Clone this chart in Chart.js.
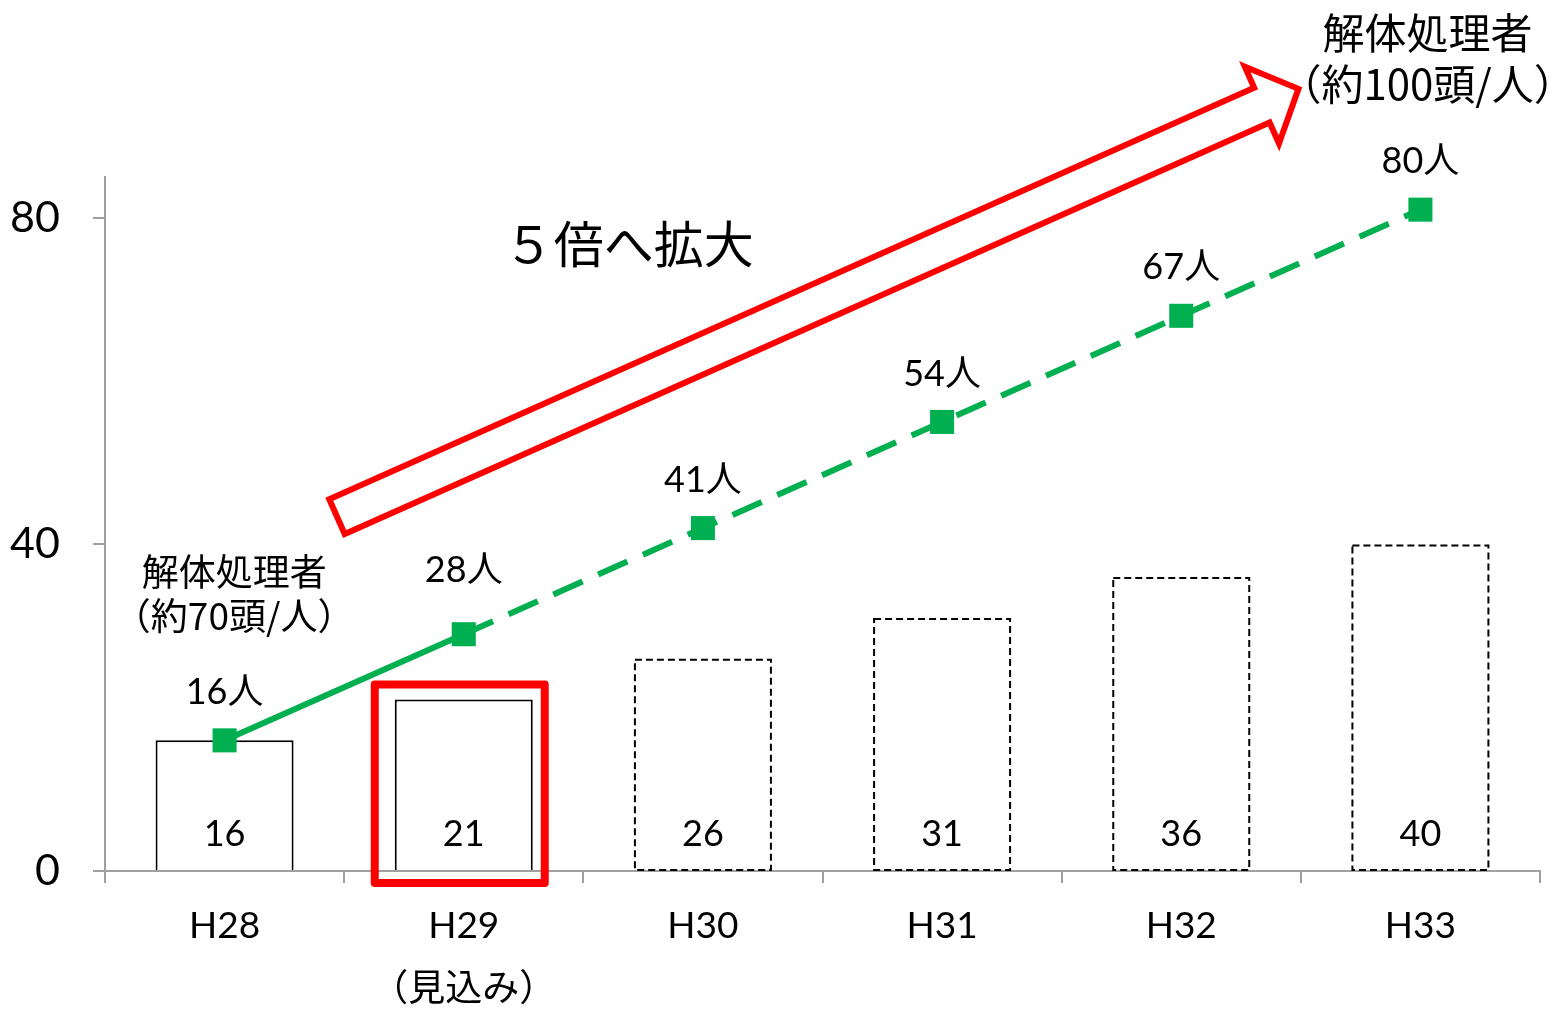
<!DOCTYPE html>
<html>
<head>
<meta charset="utf-8">
<script src="https://cdn.jsdelivr.net/npm/chart.js@4/dist/chart.umd.min.js"></script>
<style>
  html, body { margin: 0; padding: 0; background: #fff; overflow: hidden; }
  canvas { display: block; }
</style>
</head>
<body>
<canvas id="grafico" width="1553" height="1009"></canvas>
<script>
const categorias = ['H28', ['H29', '（見込み）'], 'H30', 'H31', 'H32', 'H33'];
const valoresBarras = [16, 21, 26, 31, 36, 40];
const valoresLinea = [16, 29, 42, 55, 68, 81];
const etiquetasLinea = ['16人', '28人', '41人', '54人', '67人', '80人'];
const ticksY = [0, 40, 80];
const barrasPrevistas = [false, false, true, true, true, true];

const fuente = "Lato, 'Noto Sans CJK JP', sans-serif";
const fuenteJP = "'Noto Sans CJK JP', sans-serif";
const gris = '#a0a0a0';
const verde = '#00b050';
const rojo = '#ff0000';

const anotaciones = {
  id: 'anotaciones',
  afterDatasetsDraw(chart) {
    const ctx = chart.ctx;
    const x = chart.scales.x;
    const y = chart.scales.y;
    const barras = chart.getDatasetMeta(1).data;
    const puntos = chart.getDatasetMeta(0).data;

    ctx.save();
    // bordes punteados de las barras previstas
    barras.forEach((barra, i) => {
      if (!barrasPrevistas[i]) return;
      const { x: bx, y: by, base, width } = barra.getProps(['x', 'y', 'base', 'width'], true);
      ctx.strokeStyle = '#000';
      ctx.lineWidth = 2;
      ctx.setLineDash([7, 4]);
      ctx.strokeRect(bx - width / 2 + 1, by + 1, width - 2, base - by - 1);
    });
    ctx.setLineDash([]);

    // valores dentro de las barras
    ctx.fillStyle = '#000';
    ctx.textAlign = 'center';
    ctx.textBaseline = 'middle';
    ctx.font = '36px ' + fuente;
    barras.forEach((barra, i) => {
      const { x: bx, base } = barra.getProps(['x', 'base'], true);
      ctx.fillText(String(valoresBarras[i]), bx, base - 36);
    });

    // etiquetas de la linea
    ctx.font = '36px ' + fuente;
    puntos.forEach((p, i) => {
      const { x: px, y: py } = p.getProps(['x', 'y'], true);
      ctx.fillText(etiquetasLinea[i], px, py - (i === 1 ? 64 : 48));
    });

    // recuadro rojo en H29
    const b1 = barras[1].getProps(['x', 'y', 'base', 'width'], true);
    ctx.strokeStyle = rojo;
    ctx.lineWidth = 8;
    ctx.lineJoin = 'round';
    const cx = b1.x - 4;
    ctx.strokeRect(cx - 85, b1.y - 15, 170, b1.base - b1.y + 28);

    // flecha
    const x0 = x.getPixelForValue(0.47), y0 = y.getPixelForValue(43.4);
    const x1 = x.getPixelForValue(4.49), y1 = y.getPixelForValue(95.8);
    const largo = Math.hypot(x1 - x0, y1 - y0);
    const ang = Math.atan2(y1 - y0, x1 - x0);
    ctx.translate(x0, y0);
    ctx.rotate(ang);
    ctx.beginPath();
    ctx.moveTo(0, -19);
    ctx.lineTo(largo - 40, -19);
    ctx.lineTo(largo - 40, -42);
    ctx.lineTo(largo, 0);
    ctx.lineTo(largo - 40, 42);
    ctx.lineTo(largo - 40, 19);
    ctx.lineTo(0, 19);
    ctx.closePath();
    ctx.lineWidth = 6;
    ctx.lineJoin = 'miter';
    ctx.stroke();
    ctx.setTransform(1, 0, 0, 1, 0, 0);

    // textos
    ctx.fillStyle = '#000';
    ctx.font = '50px ' + fuenteJP;
    ctx.fillText('５倍へ拡大', x.getPixelForValue(1.69), y.getPixelForValue(76.8));
    ctx.font = '37px ' + fuenteJP;
    ctx.fillText('解体処理者', x.getPixelForValue(0.04), y.getPixelForValue(36.6));
    ctx.fillText('（約70頭/人）', x.getPixelForValue(0.04), y.getPixelForValue(31.3));
    ctx.font = '42px ' + fuenteJP;
    ctx.fillText('解体処理者', x.getPixelForValue(5.03), y.getPixelForValue(102.6));
    ctx.fillText('（約100頭/人）', x.getPixelForValue(5.03), y.getPixelForValue(96.4));
    ctx.restore();
  }
};

new Chart(document.getElementById('grafico'), {
  data: {
    labels: categorias,
    datasets: [
      {
        type: 'line',
        data: valoresLinea,
        borderColor: verde,
        backgroundColor: verde,
        borderWidth: 6,
        pointStyle: 'rect',
        pointRadius: 17,
        pointHoverRadius: 17,
        pointBorderWidth: 0,
        tension: 0,
        clip: false,
        segment: {
          borderDash: (c) => (c.p0DataIndex >= 1 ? [32, 17] : undefined)
        },
        order: 0
      },
      {
        type: 'bar',
        data: valoresBarras,
        backgroundColor: '#fff',
        borderColor: barrasPrevistas.map((p) => (p ? 'rgba(0,0,0,0)' : '#000')),
        borderWidth: 2,
        barPercentage: 0.577,
        categoryPercentage: 1,
        order: 1
      }
    ]
  },
  options: {
    responsive: false,
    animation: false,
    layout: { autoPadding: false, padding: { top: 177, right: 13, left: 0, bottom: 0 } },
    plugins: {
      legend: { display: false },
      tooltip: { enabled: false }
    },
    scales: {
      x: {
        offset: true,
        border: { color: gris, width: 2 },
        grid: { offset: true, drawOnChartArea: false, color: gris, lineWidth: 2, tickLength: 12 },
        ticks: {
          color: '#000',
          padding: 12,
          maxRotation: 0,
          font: { family: fuente, size: 37, lineHeight: 1.7 }
        },
        afterFit: (scale) => {
          scale.height = 1009 - 871;
          scale.paddingLeft = 0;
          scale.paddingRight = 0;
        }
      },
      y: {
        min: 0,
        max: 85,
        border: { color: gris, width: 2 },
        grid: { drawOnChartArea: false, color: gris, lineWidth: 2, tickLength: 12 },
        ticks: {
          color: '#000',
          padding: 33,
          font: { family: fuente, size: 43 }
        },
        afterBuildTicks: (scale) => {
          scale.ticks = ticksY.map((v) => ({ value: v }));
        },
        afterFit: (scale) => { scale.width = 105; }
      }
    }
  },
  plugins: [anotaciones]
});
</script>
</body>
</html>
